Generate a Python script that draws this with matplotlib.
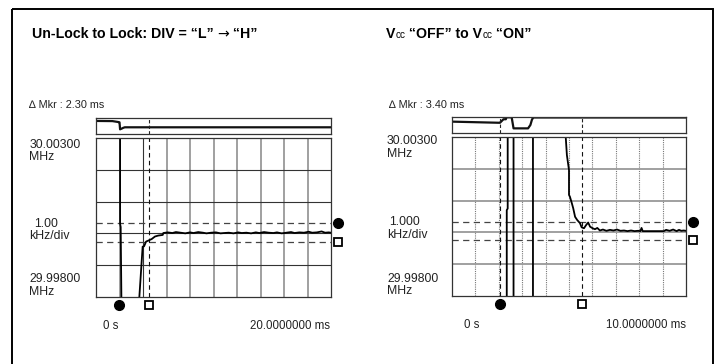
#!/usr/bin/env python3
"""Lock-up time traces (un-lock -> lock, Vcc off -> on) as two analyzer screens."""
import matplotlib
matplotlib.use("Agg")
import matplotlib.pyplot as plt
from matplotlib.patches import Rectangle
from matplotlib.transforms import blended_transform_factory

plt.rcParams["font.family"] = ["Liberation Sans", "DejaVu Sans"]

W, H = 719, 364

# --- left screen: Un-Lock to Lock (x: ms, 0..20 / y: kHz offset from 30.000 MHz) ---
left_title = ["Un-Lock to Lock: DIV = “L” ", "→", " “H”"]
left_mkr = "∆ Mkr : 2.30 ms"
left_xlim = (0, 20)
left_main_t = [2.05, 2.05, 2.10, 2.17, 2.20, 3.60, 3.69, 3.97, 4.09, 4.26, 4.45, 4.74,
               5.02, 5.30, 5.68, 5.73, 6.1, 6.5, 6.8, 7.2, 7.6, 8.0, 8.3, 8.7, 9.1,
               9.4, 9.8, 10.2, 10.6, 10.9, 11.3, 11.7, 12.1, 12.4, 12.8, 13.2, 13.6,
               13.9, 14.3, 14.7, 15.1, 15.4, 15.8, 16.2, 16.6, 16.9, 17.3, 17.7, 18.1,
               18.4, 18.8, 19.2, 19.5, 19.8, 20.0]
left_main_k = [3.4, 0.30, 0.20, -2.4, -2.4, -2.4, -2.0, -0.42, -0.41, -0.26, -0.23, -0.18,
               -0.10, -0.07, -0.05, 0.01, 0.03, 0.01, 0.04, 0.02, 0.00, 0.03, 0.01, 0.04,
               0.02, 0.00, 0.02, 0.03, 0.00, 0.01, 0.02, 0.00, 0.03, 0.01, 0.02, 0.00,
               0.03, 0.01, 0.04, 0.02, 0.01, 0.03, 0.00, 0.02, 0.04, 0.01, 0.03, 0.02,
               0.05, 0.02, 0.03, 0.06, 0.02, 0.03, 0.02]
left_top_t = [0, 1.4, 1.9, 2.0, 2.05, 2.2, 2.3, 2.45, 20]
left_top_v = [0.81, 0.80, 0.74, 0.72, 0.27, 0.32, 0.36, 0.40, 0.40]
left_mkr_t = [1.98, 4.54]          # filled circle, open square
left_tol_k = [0.33, -0.27]         # dashed tolerance lines
left_ylabels = [("30.00300", "MHz"), ("1.00", "kHz/div"), ("29.99800", "MHz")]
left_xlabels = ["0 s", "20.0000000 ms"]

# --- right screen: Vcc OFF -> ON (x: ms, 0..10) ---
right_mkr = "∆ Mkr : 3.40 ms"
right_xlim = (0, 10)
right_main_t = [2.34, 2.34, 2.38, 2.38, 2.63, 2.63, 3.46, 3.46, 4.86, 4.86, 4.91, 5.00,
                5.00, 5.04, 5.12, 5.18, 5.26, 5.35, 5.47, 5.54, 5.64, 5.73, 5.82, 5.90,
                6.01, 6.11, 6.21, 6.32, 6.45, 6.6, 6.75, 6.9, 7.05, 7.2, 7.35, 7.5,
                7.65, 7.8, 7.95, 8.05, 8.1, 8.15, 8.3, 8.5, 8.7, 8.9, 9.05, 9.15, 9.3,
                9.45, 9.6, 9.7, 9.8, 9.9, 10.0]
right_main_k = [-2.4, 0.70, 0.75, 3.4, 3.4, -2.4, -2.4, 3.4, 3.4, 3.0, 2.43, 1.96,
                1.18, 1.12, 0.92, 0.76, 0.49, 0.39, 0.29, 0.16, 0.13, 0.23, 0.31, 0.18,
                0.13, 0.10, 0.14, 0.06, 0.09, 0.05, 0.08, 0.06, 0.09, 0.05, 0.06, 0.04,
                0.06, 0.04, 0.05, 0.04, 0.14, 0.04, 0.04, 0.04, 0.04, 0.04, 0.04, 0.08,
                0.05, 0.09, 0.04, 0.08, 0.05, 0.06, 0.05]
right_top_t = [0, 2.0, 2.05, 2.2, 2.3, 2.33, 2.4, 2.55, 2.63, 3.25, 3.35, 3.42, 3.48, 10]
right_top_v = [0.71, 0.64, 0.64, 0.86, 0.86, 0.98, 0.98, 0.98, 0.29, 0.29, 0.50, 0.85, 0.97, 0.97]
right_mkr_t = [2.05, 5.54]
right_tol_k = [0.33, -0.25]
right_ylabels = [("30.00300", "MHz"), ("1.000", "kHz/div"), ("29.99800", "MHz")]
right_xlabels = ["0 s", "10.0000000 ms"]

YLIM = (-2, 3)   # 29.998 .. 30.003 MHz


def px_axes(fig, x0, y0, x1, y1):
    return fig.add_axes([x0 / W, 1 - y1 / H, (x1 - x0) / W, (y1 - y0) / H])


def style_box(ax):
    ax.set_xticks([])
    ax.set_yticks([])
    for s in ax.spines.values():
        s.set_color("#333")
        s.set_linewidth(0.9)


def draw_screen(fig, box, xlim, main_t, main_k, top_t, top_v, mkr_t, tol_k, dotted_grid):
    x0, top0, top1, y0, y1, x1 = box
    top = px_axes(fig, x0, top0, x1, top1)
    top.set_xlim(*xlim)
    top.set_ylim(0, 1)
    style_box(top)
    top.plot(top_t, top_v, color="#111", lw=1.6)
    for t in mkr_t[1:] if not dotted_grid else mkr_t:
        top.axvline(t, color="#222", lw=0.8, ls=(0, (3, 2)))

    ax = px_axes(fig, x0, y0, x1, y1)
    ax.set_xlim(*xlim)
    ax.set_ylim(*YLIM)
    style_box(ax)
    span = xlim[1] - xlim[0]
    for i in range(1, 10):
        t = xlim[0] + span * i / 10
        if dotted_grid:
            ax.axvline(t, color="#777", lw=0.8, ls=(0, (1, 1)))
        elif i == 2:
            ax.axvline(t, color="#333", lw=0.8)
        else:
            ax.axvline(t, color="#999", lw=1.3)
    for k in (-1, 0, 1, 2):
        ax.axhline(k, color="#999" if dotted_grid else "#333", lw=1.3 if dotted_grid else 0.8)
    for k in tol_k:
        ax.axhline(k, color="#444", lw=0.9, ls=(0, (5, 3.5)))
    for t in (mkr_t[1:] if not dotted_grid else mkr_t):
        ax.axvline(t, color="#111", lw=0.8, ls=(0, (4, 3)))
    ax.plot(main_t, main_k, color="#000", lw=1.3)

    below = blended_transform_factory(ax.transData, ax.transAxes)
    side = blended_transform_factory(ax.transAxes, ax.transData)
    ax.plot([mkr_t[0]], [-0.052], "o", ms=7, color="#000", transform=below, clip_on=False)
    ax.plot([mkr_t[1]], [-0.052], "s", ms=5.5, mfc="white", mec="#000", mew=1.3,
            transform=below, clip_on=False)
    ax.plot([1.03], [tol_k[0]], "o", ms=7, color="#000", transform=side, clip_on=False)
    ax.plot([1.03], [tol_k[1]], "s", ms=5.5, mfc="white", mec="#000", mew=1.3,
            transform=side, clip_on=False)
    return ax


def chain_text(ov, x, y, pieces):
    renderer = ov.figure.canvas.get_renderer()
    for s, size, weight, fam in pieces:
        t = ov.text(x, y, s, fontsize=size, fontweight=weight, va="baseline", ha="left",
                    color="#000", family=fam)
        x += t.get_window_extent(renderer=renderer).width


fig = plt.figure(figsize=(W / 100, H / 100), dpi=100)

draw_screen(fig, (96, 118, 133.5, 138.3, 296.7, 331), left_xlim, left_main_t, left_main_k,
            left_top_t, left_top_v, left_mkr_t, left_tol_k, dotted_grid=False)
draw_screen(fig, (452, 117, 133, 137, 296, 686), right_xlim, right_main_t, right_main_k,
            right_top_t, right_top_v, right_mkr_t, right_tol_k, dotted_grid=True)

ov = fig.add_axes([0, 0, 1, 1])
ov.set_xlim(0, W)
ov.set_ylim(H, 0)
ov.axis("off")
ov.add_patch(Rectangle((12, 9), 701, 370, fill=False, ec="#000", lw=1.4, clip_on=False))

sans = ["Liberation Sans", "DejaVu Sans"]
chain_text(ov, 32, 38.5, [(left_title[0], 10.2, "bold", sans),
                          (left_title[1], 10.2, "normal", ["DejaVu Sans"]),
                          (left_title[2], 10.2, "bold", sans)])
chain_text(ov, 386, 38.5, [("V", 10.2, "bold", sans), ("cc", 7.2, "normal", sans),
                           (" “OFF” to V", 10.2, "bold", sans), ("cc", 7.2, "normal", sans),
                           (" “ON”", 10.2, "bold", sans)])
ov.text(29, 108, left_mkr, fontsize=7.8, color="#222", va="baseline")
ov.text(389, 108, right_mkr, fontsize=7.8, color="#222", va="baseline")

lab = dict(fontsize=8.8, color="#222", va="baseline", ha="left")
for xl, xm, ys, labels in ((29.3, 34, (147.7, 160, 226.7, 239.3, 282.3, 295), left_ylabels),
                           (387, 389.3, (144.3, 156.7, 225, 238.3, 281.7, 294.3), right_ylabels)):
    (a1, b1), (a2, b2), (a3, b3) = labels
    ov.text(xl, ys[0], a1, **lab)
    ov.text(xl, ys[1], b1, **lab)
    ov.text(xm, ys[2], a2, **lab)
    ov.text(xl, ys[3], b2, **lab)
    ov.text(xl, ys[4], a3, **lab)
    ov.text(xl, ys[5], b3, **lab)

bot = dict(fontsize=8.3, color="#222", va="baseline")
ov.text(103.3, 329.3, left_xlabels[0], ha="left", **bot)
ov.text(330, 329.3, left_xlabels[1], ha="right", **bot)
ov.text(464.3, 328.5, right_xlabels[0], ha="left", **bot)
ov.text(686, 328.5, right_xlabels[1], ha="right", **bot)

fig.savefig("out.png", dpi=100)
